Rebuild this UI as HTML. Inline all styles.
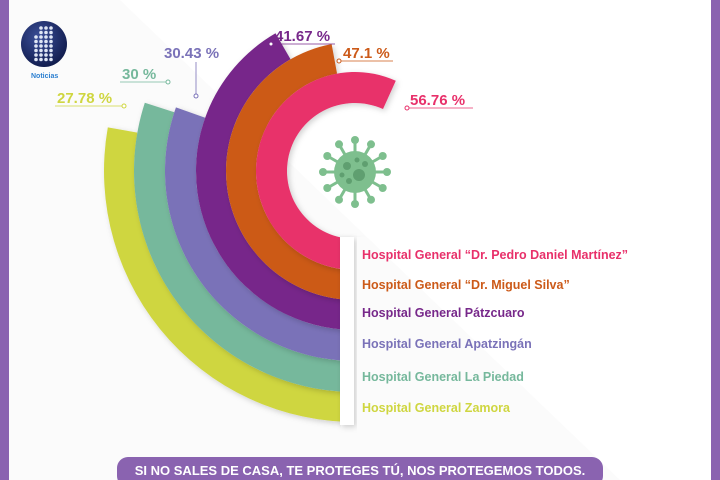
<!DOCTYPE html>
<html><head><meta charset="utf-8"><style>
html,body{margin:0;padding:0}
body{width:720px;height:480px;overflow:hidden;background:#fbfbfb;font-family:"Liberation Sans",sans-serif;position:relative}
</style></head><body>
<svg id="s" width="720" height="480" viewBox="0 0 720 480" style="position:absolute;left:0;top:0">
<defs>
<filter id="sh" x="-20%" y="-20%" width="140%" height="140%"><feDropShadow dx="2" dy="2" stdDeviation="3" flood-color="#000" flood-opacity="0.18"/></filter>
<radialGradient id="gl" cx="40%" cy="35%" r="70%"><stop offset="0" stop-color="#3b4f9a"/><stop offset="1" stop-color="#0f1a4a"/></radialGradient>
<clipPath id="cp"><rect x="0" y="0" width="720" height="237"/><rect x="0" y="0" width="341" height="480"/></clipPath>
</defs>
<rect x="0" y="0" width="720" height="480" fill="#fbfbfb"/>
<polygon points="120,0 720,0 720,480 620,480" fill="#ffffff"/>
<g id="rings" clip-path="url(#cp)"></g>
<rect x="340" y="237" width="14" height="188" fill="#fff" filter="url(#sh)"/>
<g id="virus" fill="#7ebf8e"></g>
<g font-weight="bold" font-size="12.5">
<text x="362" y="259" fill="#e8306a">Hospital General “Dr. Pedro Daniel Martínez”</text>
<text x="362" y="289" fill="#cc5a19">Hospital General “Dr. Miguel Silva”</text>
<text x="362" y="317" fill="#77288a">Hospital General Pátzcuaro</text>
<text x="362" y="348" fill="#7a72b8">Hospital General Apatzingán</text>
<text x="362" y="381" fill="#76b89c">Hospital General La Piedad</text>
<text x="362" y="412" fill="#cfd640">Hospital General Zamora</text>
</g>
<g font-weight="bold" font-size="15">
<text x="410" y="105" fill="#e8306a">56.76 %</text>
<line x1="407" y1="108" x2="473" y2="108" stroke="#e8306a" stroke-width="0.8"/>
<circle cx="407" cy="108" r="2" fill="#fff" stroke="#e8306a"/>
<text x="343" y="58" fill="#cc5a19">47.1 %</text>
<line x1="339" y1="61" x2="393" y2="61" stroke="#cc5a19" stroke-width="0.8"/>
<circle cx="339" cy="61" r="2" fill="#fff" stroke="#cc5a19"/>
<text x="275" y="41" fill="#77288a">41.67 %</text>
<line x1="271" y1="44" x2="335" y2="44" stroke="#77288a" stroke-width="0.8"/>
<circle cx="271" cy="44" r="2" fill="#fff" stroke="#77288a"/>
<text x="164" y="58" fill="#7a72b8">30.43 %</text>
<line x1="196" y1="62" x2="196" y2="95" stroke="#7a72b8" stroke-width="0.8"/>
<circle cx="196" cy="96" r="2" fill="#fff" stroke="#7a72b8"/>
<text x="122" y="79" fill="#76b89c">30 %</text>
<line x1="120" y1="82" x2="167" y2="82" stroke="#76b89c" stroke-width="0.8"/>
<circle cx="168" cy="82" r="2" fill="#fff" stroke="#76b89c"/>
<text x="57" y="103" fill="#cfd640">27.78 %</text>
<line x1="55" y1="106" x2="124" y2="106" stroke="#cfd640" stroke-width="0.8"/>
<circle cx="124" cy="106" r="2" fill="#fff" stroke="#cfd640"/>
</g>
<circle cx="44" cy="44" r="23" fill="url(#gl)"/>
<g fill="#dfe6f5" id="dots"></g>
<text x="31" y="78" font-size="7" font-weight="bold" fill="#2b7fd0">Noticias</text>
<rect x="0" y="0" width="9" height="480" fill="#8a63b0"/>
<rect x="711" y="0" width="9" height="480" fill="#8a63b0"/>
<rect x="117" y="457" width="486" height="30" rx="11" fill="#8a63b0"/>
<text x="360" y="475" font-size="13" font-weight="bold" fill="#fff" text-anchor="middle">SI NO SALES DE CASA, TE PROTEGES TÚ, NOS PROTEGEMOS TODOS.</text>
</svg>
<script>
var NS="http://www.w3.org/2000/svg",cx=355,cy=171;
var rings=[[251,221,27.78,"#cfd640"],[221,190,30,"#76b89c"],[190,159,30.43,"#7a72b8"],[159,129,41.67,"#77288a"],[129,99,47.1,"#cc5a19"],[99,68,56.76,"#e8306a"]];
var g=document.getElementById("rings");
function pt(r,a){return [cx+r*Math.cos(a),cy+r*Math.sin(a)];}
rings.forEach(function(d){
 var a0=Math.PI/2-0.08,a1=Math.PI/2+d[2]/100*2*Math.PI;
 var lg=(a1-a0)>Math.PI?1:0;
 var p1=pt(d[0],a0),p2=pt(d[0],a1),p3=pt(d[1],a1),p4=pt(d[1],a0);
 var p=document.createElementNS(NS,"path");
 p.setAttribute("d","M"+p1+" A"+d[0]+","+d[0]+" 0 "+lg+" 1 "+p2+" L"+p3+" A"+d[1]+","+d[1]+" 0 "+lg+" 0 "+p4+"Z");
 p.setAttribute("fill",d[3]);p.setAttribute("filter","url(#sh)");
 g.appendChild(p);
});
var v=document.getElementById("virus"),vx=355,vy=172;
function add(t,at){var e=document.createElementNS(NS,t);for(var k in at)e.setAttribute(k,at[k]);v.appendChild(e);return e;}
add("circle",{cx:vx,cy:vy,r:21});
for(var i=0;i<12;i++){var a=i*Math.PI/6;
 add("line",{x1:vx,y1:vy,x2:vx+31*Math.cos(a),y2:vy+31*Math.sin(a),stroke:"#7ebf8e","stroke-width":3});
 add("circle",{cx:vx+32*Math.cos(a),cy:vy+32*Math.sin(a),r:4});}
[[-8,-6,4],[4,3,6],[10,-8,3],[-6,9,3],[2,-12,2.5],[-13,3,2.5]].forEach(function(c){add("circle",{cx:vx+c[0],cy:vy+c[1],r:c[2],fill:"#5f9f70"});});
var dg=document.getElementById("dots");
for(var r=0;r<8;r++)for(var c=0;c<4;c++){if(r<2&&c==0)continue;var e=document.createElementNS(NS,"circle");e.setAttribute("cx",36+c*5);e.setAttribute("cy",28+r*4.5);e.setAttribute("r",1.8);dg.appendChild(e);}
</script>
</body></html>
